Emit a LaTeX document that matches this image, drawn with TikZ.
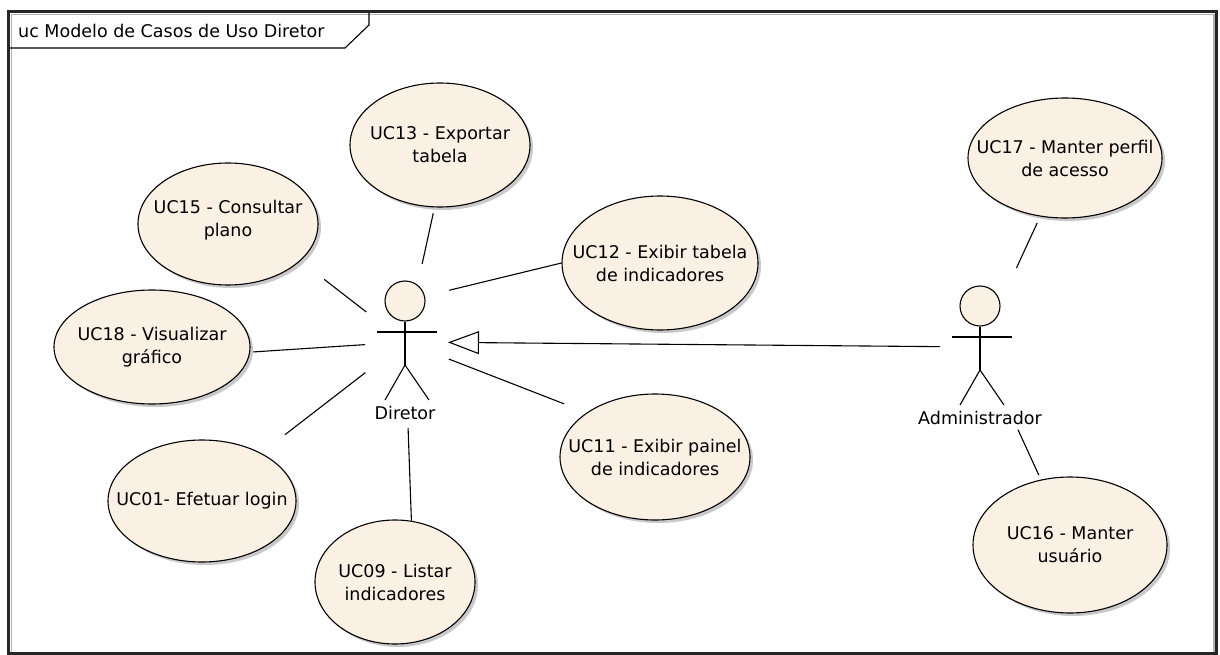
\documentclass[tikz,border=0pt]{standalone}
\usepackage{fontspec}
\setmainfont{DejaVu Sans}
\usetikzlibrary{shapes.geometric,arrows.meta,shadows}
\definecolor{ucfill}{RGB}{251,240,228}
\begin{document}
\begin{tikzpicture}[x=1pt,y=-1pt,
  every node/.style={font=\fontsize{17.5}{23}\selectfont},
  uc/.style={ellipse, draw, line width=1.1pt, fill=ucfill, inner sep=0pt,
    drop shadow={shadow xshift=3pt, shadow yshift=-3pt, opacity=.35, fill=black!60}},
  uctext/.style={align=center, inner sep=0pt},
  head/.style={circle, draw, line width=1.1pt, fill=ucfill, minimum size=40pt, inner sep=0pt},
  stick/.style={line width=1.1pt},
  assoc/.style={line width=1.1pt},
  gen/.style={line width=1.1pt, -{Triangle[open, length=31pt, width=23pt, line width=1.1pt]}},
  actor/.pic={
    \node[head] (-head) at (0,-41) {};
    \draw[stick] (-head.south) -- (0,23);
    \draw[stick] (-28,-10) -- (32,-10);
    \draw[stick] (-20,58) -- (0,23) -- (24,58);
    \node (-label) at (0,71) {#1};
  }]
\useasboundingbox (0,0) rectangle (1220,655);
\fill[white] (0,0) rectangle (1220,655);

% diagram frame and its name tab
\draw[line width=3pt, black!85] (8.5,11.5) -- (1216.5,11.5) -- (1216.5,653.5) -- (8.5,653.5) -- cycle;
\draw[line width=1.2pt, black!30] (11.5,652) -- (11.5,14.5) -- (1214,14.5) -- (1214,652);
\draw[line width=1.1pt] (10,48) -- (345,48) -- (369,25) -- (369,13);
\node[anchor=west, inner sep=0pt] (title) at (18,31) {uc Modelo de Casos de Uso Diretor};

% use cases
\node[uc, minimum width=180pt, minimum height=124pt,
  label={[uctext]center:UC13 - Exportar\\tabela}] (uc13) at (440,145) {};
\node[uc, minimum width=180pt, minimum height=122pt,
  label={[uctext, yshift=4pt]center:UC15 - Consultar\\plano}] (uc15) at (228,224) {};
\node[uc, minimum width=196pt, minimum height=134pt,
  label={[uctext]center:UC12 - Exibir tabela\\de indicadores}] (uc12) at (660,263) {};
\node[uc, minimum width=196pt, minimum height=114pt,
  label={[uctext]center:UC18 - Visualizar\\gráfico}] (uc18) at (152,347) {};
\node[uc, minimum width=190pt, minimum height=126pt,
  label={[uctext]center:UC11 - Exibir painel\\de indicadores}] (uc11) at (655,457) {};
\node[uc, minimum width=188pt, minimum height=122pt,
  label={[uctext]center:UC01- Efetuar login}] (uc01) at (202,501) {};
\node[uc, minimum width=160pt, minimum height=124pt,
  label={[uctext]center:UC09 - Listar\\indicadores}] (uc09) at (395,582) {};
\node[uc, minimum width=194pt, minimum height=120pt,
  label={[uctext]center:UC17 - Manter perfil\\de acesso}] (uc17) at (1065,158) {};
\node[uc, minimum width=194pt, minimum height=136pt,
  label={[uctext]center:UC16 - Manter\\usuário}] (uc16) at (1070,545) {};

% actors
\coordinate (dir) at (405,342);
\coordinate (adm) at (980,347);
\pic (dirfig) at (dir) {actor=Diretor};
\pic (admfig) at (adm) {actor=Administrador};

% associations
\draw[assoc, shorten <=6pt, shorten >=80pt] (uc13.-95) -- (dir);
\draw[assoc, shorten <=30pt, shorten >=49pt] (uc15.-27) -- (dir);
\draw[assoc, shorten >=25pt] (uc12.west) -- (dirfig-head);
\draw[assoc, shorten <=3pt, shorten >=40pt] (uc18.-3) -- (dir);
\draw[assoc, shorten <=24pt, shorten >=47pt] (uc11.147) -- (dir);
\draw[assoc, shorten <=30pt, shorten >=50pt] (uc01.39) -- (dir);
\draw[assoc, shorten >=86pt] (uc09.75) -- (dir);
\draw[assoc, shorten <=7pt, shorten >=87pt] (uc17.-113) -- (adm);
\draw[assoc, shorten <=5pt, shorten >=91pt] (uc16.114) -- (adm);

% generalization
\draw[gen, shorten <=40pt, shorten >=43pt] (adm) -- (dir);
\end{tikzpicture}
\end{document}
